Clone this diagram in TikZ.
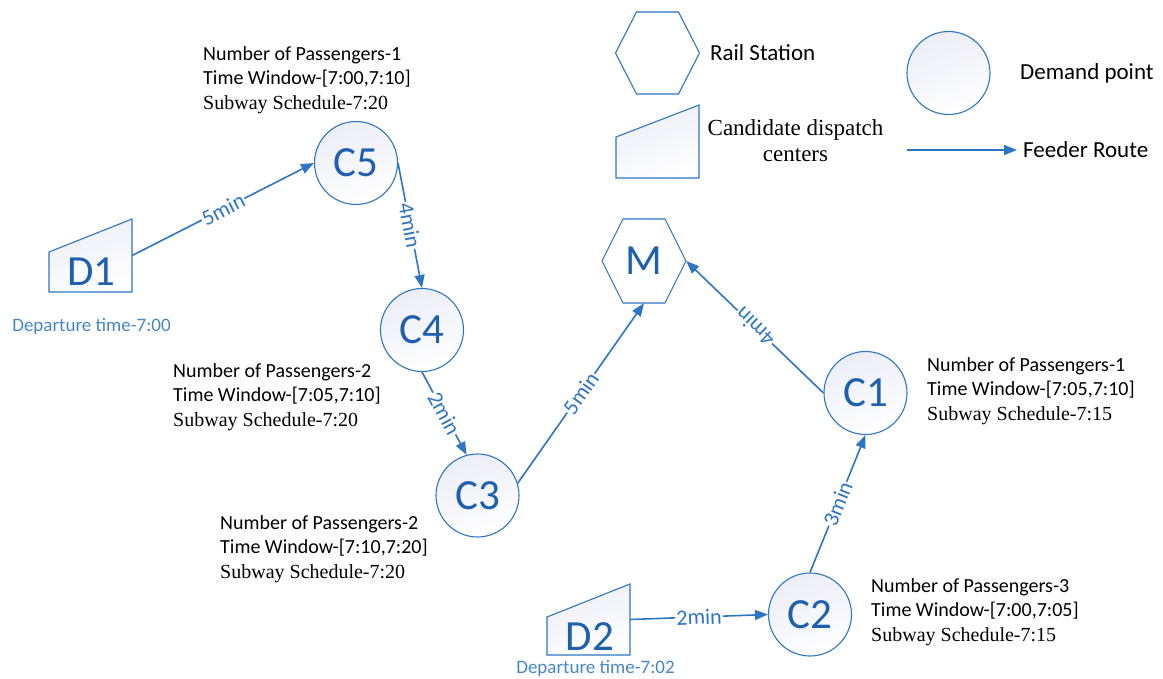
\documentclass[tikz,border=0pt]{standalone}
\usepackage{fontspec}
\setmainfont{Carlito}
\newfontfamily\timesf{Liberation Serif}
\usetikzlibrary{arrows.meta,calc}
\definecolor{lineblue}{RGB}{46,117,196}
\definecolor{txtblue}{RGB}{30,96,176}
\definecolor{depblue}{RGB}{70,134,200}
\definecolor{shapefill}{RGB}{236,238,247}
\begin{document}
\begin{tikzpicture}[x=1pt,y=-1pt,
 softfill/.style={top color=shapefill,bottom color=white,shading angle=20},
 demand/.style={circle,draw=lineblue,line width=1.1pt,softfill,minimum size=83pt,inner sep=0pt,text=txtblue,font=\fontsize{43}{43}\selectfont},
 box/.style={draw=none,inner sep=0pt,minimum width=83pt,minimum height=72pt},
 bigtext/.style={inner sep=0pt,text=txtblue,font=\fontsize{43}{43}\selectfont},
 shapeline/.style={draw=lineblue,line width=1.1pt,softfill},
 route/.style={draw=lineblue,line width=1.6pt,-{Triangle[length=13pt,width=10pt]}},
 tlabel/.style={fill=white,inner sep=1pt,text=lineblue,font=\fontsize{22}{22}\selectfont,sloped},
 info/.style={anchor=west,align=left,inner sep=0pt,font=\fontsize{20}{24.5}\selectfont},
 dep/.style={text=depblue,font=\fontsize{19}{19}\selectfont,inner sep=0pt},
 legtext/.style={anchor=west,inner sep=0pt,font=\fontsize{23}{23}\selectfont}]
\useasboundingbox (0,0) rectangle (1163,679);

% ---------- legend ----------
\draw[draw=lineblue,line width=1.1pt,fill=white] (615.5,53) -- (636.5,12) -- (678.5,12) -- (699.5,53) -- (678.5,94) -- (636.5,94) -- cycle;
\node[legtext] (lrail) at (710,53) {Rail Station};
\node[demand] (lcirc) at (948.5,73) {};
\node[legtext] (ldem) at (1020,73) {Demand point};
\draw[shapeline] (616,137) -- (699,105) -- (699,178) -- (616,178) -- cycle;
\node[align=center,inner sep=0pt,font=\fontsize{23}{26}\selectfont\timesf] (lcand) at (795.5,141) {Candidate dispatch\\centers};
\coordinate (fa) at (907,150);
\coordinate (fb) at (1017,150);
\draw[route] (fa) -- (fb);
\node[legtext] (lfeed) at (1023,150) {Feeder Route};

% ---------- shapes ----------
\draw[draw=lineblue,line width=1.1pt,fill=white] (602,261) -- (623,219) -- (665,219) -- (686,261) -- (665,303) -- (623,303) -- cycle;
\node[box,minimum width=84pt,minimum height=84pt,text=txtblue,font=\fontsize{43}{43}\selectfont] (M) at (644,261) {M};

\draw[shapeline] (49,292) -- (49,252) -- (132,219) -- (132,292) -- cycle;
\node[box] (D1) at (90.5,255.5) {};
\node[bigtext] (D1t) at (91.5,272) {D1};
\node[dep] (dep1) at (91.5,326) {Departure time-7:00};

\draw[shapeline] (547,655) -- (547,617) -- (630,584) -- (630,655) -- cycle;
\node[box,minimum height=71pt] (D2) at (588.5,619.5) {};
\node[bigtext] (D2t) at (590,637) {D2};
\node[dep] (dep2) at (595.5,668) {Departure time-7:02};

\node[demand] (C5) at (356,163) {C5};
\node[demand] (C4) at (422,330) {C4};
\node[demand] (C3) at (477.5,495.5) {C3};
\node[demand] (C1) at (865.5,393) {C1};
\node[demand] (C2) at (810,614.5) {C2};

% ---------- routes ----------
\draw[route] (D1.east) -- node[tlabel] (e1) {5min} (C5.west);
\draw[route] (C5.east) -- node[tlabel] (e2) {4min} (C4.north);
\draw[route] (C4.south) -- node[tlabel] (e3) {2min} (C3.105);
\draw[route] (C3.17) -- node[tlabel] (e4) {5min} (M.south);
\draw[route] (C1.west) -- node[tlabel,allow upside down] (e5) {4min} (M.east);
\draw[route] (C2.north) -- node[tlabel] (e6) {3min} (C1.south);
\draw[route] (D2.east) -- node[tlabel] (e7) {2min} (C2.west);

% ---------- info texts ----------
\node[info] (i5) at (203,80) {Number of Passengers-1\\Time Window-[7:00,7:10]\\{\timesf Subway Schedule-7:20}};
\node[info] (i4) at (173,397) {Number of Passengers-2\\Time Window-[7:05,7:10]\\{\timesf Subway Schedule-7:20}};
\node[info] (i3) at (220,549) {Number of Passengers-2\\Time Window-[7:10,7:20]\\{\timesf Subway Schedule-7:20}};
\node[info] (i1) at (927,391) {Number of Passengers-1\\Time Window-[7:05,7:10]\\{\timesf Subway Schedule-7:15}};
\node[info] (i2) at (871,612) {Number of Passengers-3\\Time Window-[7:00,7:05]\\{\timesf Subway Schedule-7:15}};
\end{tikzpicture}
\end{document}
